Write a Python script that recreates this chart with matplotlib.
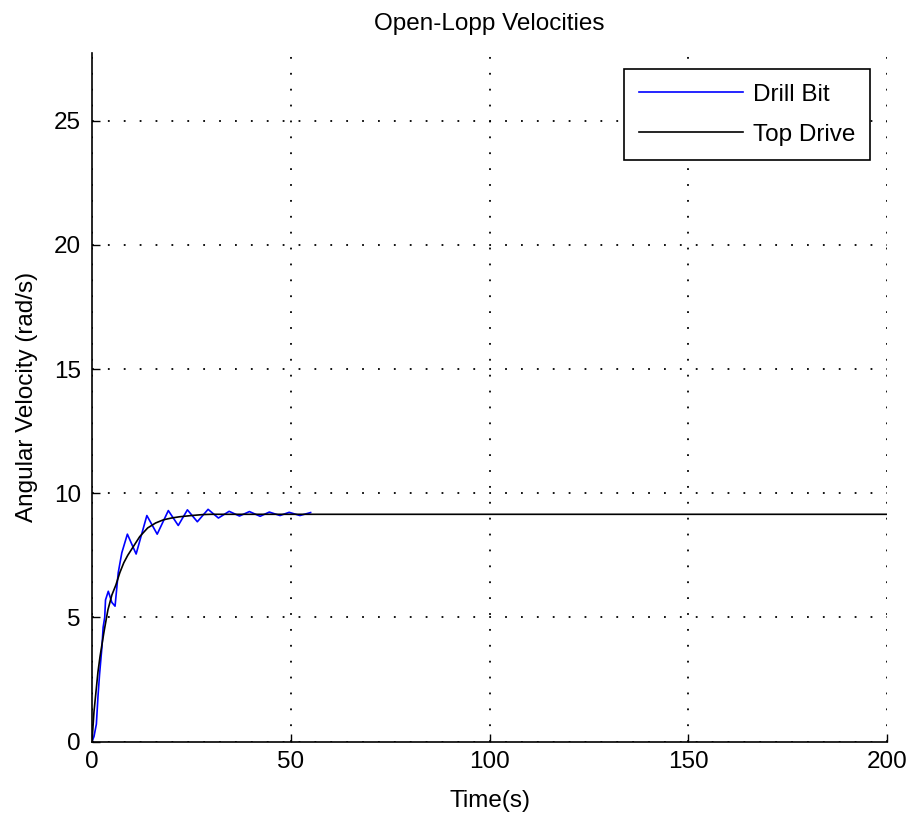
import matplotlib
matplotlib.use("Agg")
import matplotlib.pyplot as plt

plt.rcParams["font.family"] = ["Liberation Sans", "DejaVu Sans"]

# Top Drive angular velocity (rad/s) vs time (s)
t_top = [0, 0.5, 1, 1.5, 2, 3, 4, 5, 6, 7, 8, 9, 10, 12, 14, 16, 18, 20,
         22, 25, 28, 30, 200]
w_top = [0, 1.2, 2.0, 2.8, 3.4, 4.4, 5.3, 5.9, 6.3, 6.8, 7.2, 7.5, 7.75,
         8.25, 8.6, 8.8, 8.93, 9.0, 9.05, 9.1, 9.14, 9.15, 9.15]

# Drill Bit angular velocity (rad/s) vs time (s)
t_bit = [0, 0.5, 1.1, 1.5, 1.9, 2.5, 2.8, 3.2, 3.4, 4.1, 5.0, 5.8, 6.6,
         7.5, 8.9, 11.1, 13.8, 16.4, 19.2, 21.7, 24.0, 26.5, 29.2, 31.8,
         34.5, 37.1, 39.6, 42.3, 44.6, 47.3, 49.6, 52.3, 55.0]
w_bit = [0, 0.2, 0.7, 1.8, 2.7, 3.8, 4.6, 5.0, 5.7, 6.05, 5.6, 5.45, 6.8,
         7.6, 8.35, 7.55, 9.1, 8.35, 9.3, 8.7, 9.33, 8.85, 9.35, 9.0,
         9.27, 9.08, 9.26, 9.07, 9.24, 9.1, 9.23, 9.1, 9.22]

x_ticks = [0, 50, 100, 150, 200]
y_ticks = [0, 5, 10, 15, 20, 25]

W, H = 907, 814
fig = plt.figure(figsize=(W / 100, H / 100), dpi=100)
ax = fig.add_axes([92 / W, 1 - 741.5 / H, (887 - 92) / W, (741.5 - 52.7) / H])

ax.plot(t_bit, w_bit, color="#0000ff", lw=1.2, label="Drill Bit")
ax.plot(t_top, w_top, color="black", lw=1.2, label="Top Drive")

ax.set_xlim(0, 200)
ax.set_ylim(0, 27.74)
ax.set_xticks(x_ticks)
ax.set_yticks(y_ticks)
ax.grid(True, color="black", linestyle=(0, (1.0, 7.8)), lw=1.3)
ax.tick_params(direction="in", length=6, width=1, labelsize=17.5, pad=8)
ax.tick_params(axis="x", pad=7)

for side in ("top", "right"):
    ax.spines[side].set_visible(False)
for side in ("left", "bottom"):
    ax.spines[side].set_linewidth(1.2)

ax.set_title("Open-Lopp Velocities", fontsize=17.5, pad=16)
ax.set_xlabel("Time(s)", fontsize=17.5, labelpad=12)
ax.set_ylabel("Angular Velocity (rad/s)", fontsize=17.5, labelpad=11)

leg = ax.legend(loc="upper right", bbox_to_anchor=(870 / W, 1 - 69 / H),
                bbox_transform=fig.transFigure, fontsize=17.5, fancybox=False,
                framealpha=1, edgecolor="black", handlelength=4.3,
                handletextpad=0.4, borderpad=0.6, labelspacing=0.75,
                borderaxespad=0)
leg.get_frame().set_linewidth(1.2)

fig.savefig("out.png", dpi=100)
